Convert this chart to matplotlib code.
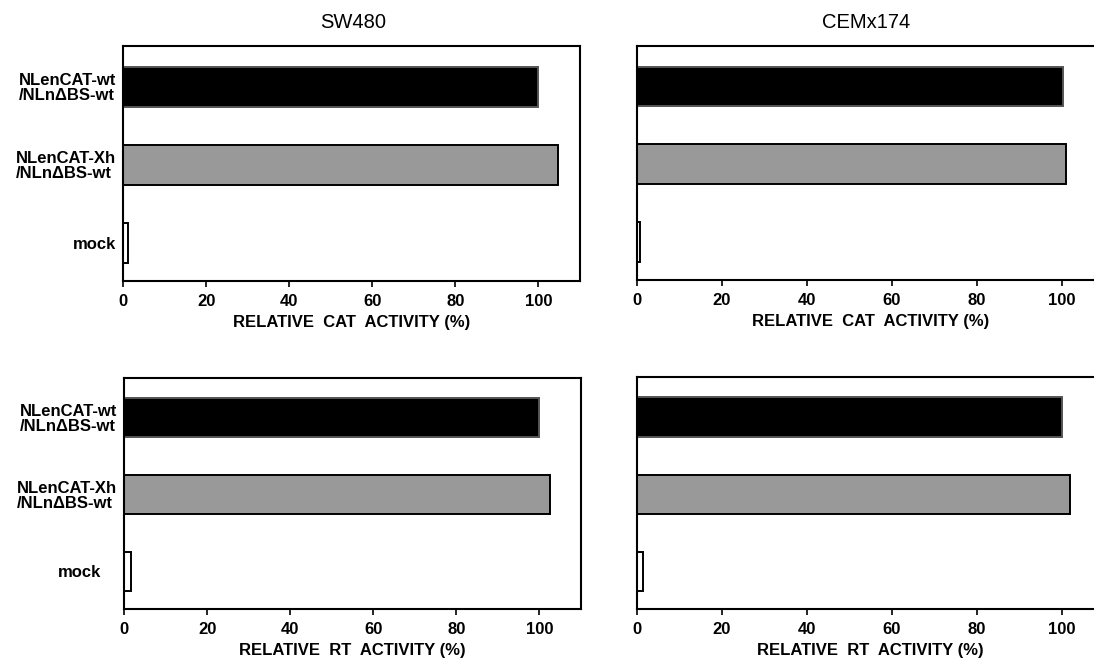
import matplotlib
matplotlib.use("Agg")
from matplotlib import pyplot as plt
from matplotlib.transforms import ScaledTranslation

plt.rcParams['font.family'] = ['Liberation Sans', 'DejaVu Sans']

# data (mock at bottom)
categories = ["NLenCAT-wt\n/NLn\u0394BS-wt", "NLenCAT-Xh\n/NLn\u0394BS-wt", "mock"]
cat_sw480 = [100, 104.8, 1.1]
cat_cem = [100.3, 101, 0.7]
rt_sw480 = [100, 102.5, 1.8]
rt_cem = [100.2, 102, 1.3]
cell_lines = ["SW480", "CEMx174"]
xlabels = ["RELATIVE  CAT  ACTIVITY", "RELATIVE  RT  ACTIVITY"]
xticks = [0, 20, 40, 60, 80, 100]

bar_colors = ["black", "#999999", "white"]
edge_colors = ["#555555", "black", "black"]

W, H = 1094, 660
fig = plt.figure(figsize=(W / 100, H / 100), dpi=100)


def box(x0, y0, x1, y1):
  # pixel box -> figure fraction rect
  return [x0 / W, 1 - y1 / H, (x1 - x0) / W, (y1 - y0) / H]


def draw_panel(rect, values, xlabel, show_labels, mock_shift=0):
  ax = fig.add_axes(rect)
  ypos = [2, 1, 0]
  ax.barh(ypos, values, height=0.51, color=bar_colors,
          edgecolor=edge_colors, linewidth=1.4)
  ax.set_xlim(0, 110)
  ax.set_ylim(-0.49, 2.52)
  ax.set_xticks(xticks)
  ax.tick_params(axis='x', direction='out', length=4, width=1.2,
                 labelsize=12, pad=5.5)
  for lab in ax.get_xticklabels():
    lab.set_fontweight('bold')
  for s in ax.spines.values():
    s.set_linewidth(1.5)
  if show_labels:
    ax.set_yticks(ypos, categories)
    ax.tick_params(axis='y', length=0, pad=5, labelsize=12)
    for lab in ax.get_yticklabels():
      lab.set_multialignment('left')
      lab.set_fontweight('bold')
      lab.set_linespacing(1.0)
    if mock_shift:
      lab = ax.get_yticklabels()[2]
      lab.set_transform(lab.get_transform() +
                        ScaledTranslation(mock_shift / 100, 0, fig.dpi_scale_trans))
  else:
    ax.set_yticks([])
  ax.annotate(xlabel + " (%)", xy=(0.5, 0), xycoords='axes fraction',
              xytext=(0, -41), textcoords='offset pixels',
              ha='center', va='center', fontsize=12, fontweight='bold')
  return ax


draw_panel(box(123, 46, 580, 281), cat_sw480, xlabels[0], True)
draw_panel(box(637, 46, 1104, 280), cat_cem, xlabels[0], False)
draw_panel(box(124, 378, 581, 609), rt_sw480, xlabels[1], True, mock_shift=-16)
draw_panel(box(637, 377, 1104, 609), rt_cem, xlabels[1], False)

fig.text(353 / W, 1 - 22 / H, cell_lines[0], ha='center', va='center', fontsize=14.5)
fig.text(866 / W, 1 - 22 / H, cell_lines[1], ha='center', va='center', fontsize=14.5)

fig.savefig("out.png", dpi=100)
